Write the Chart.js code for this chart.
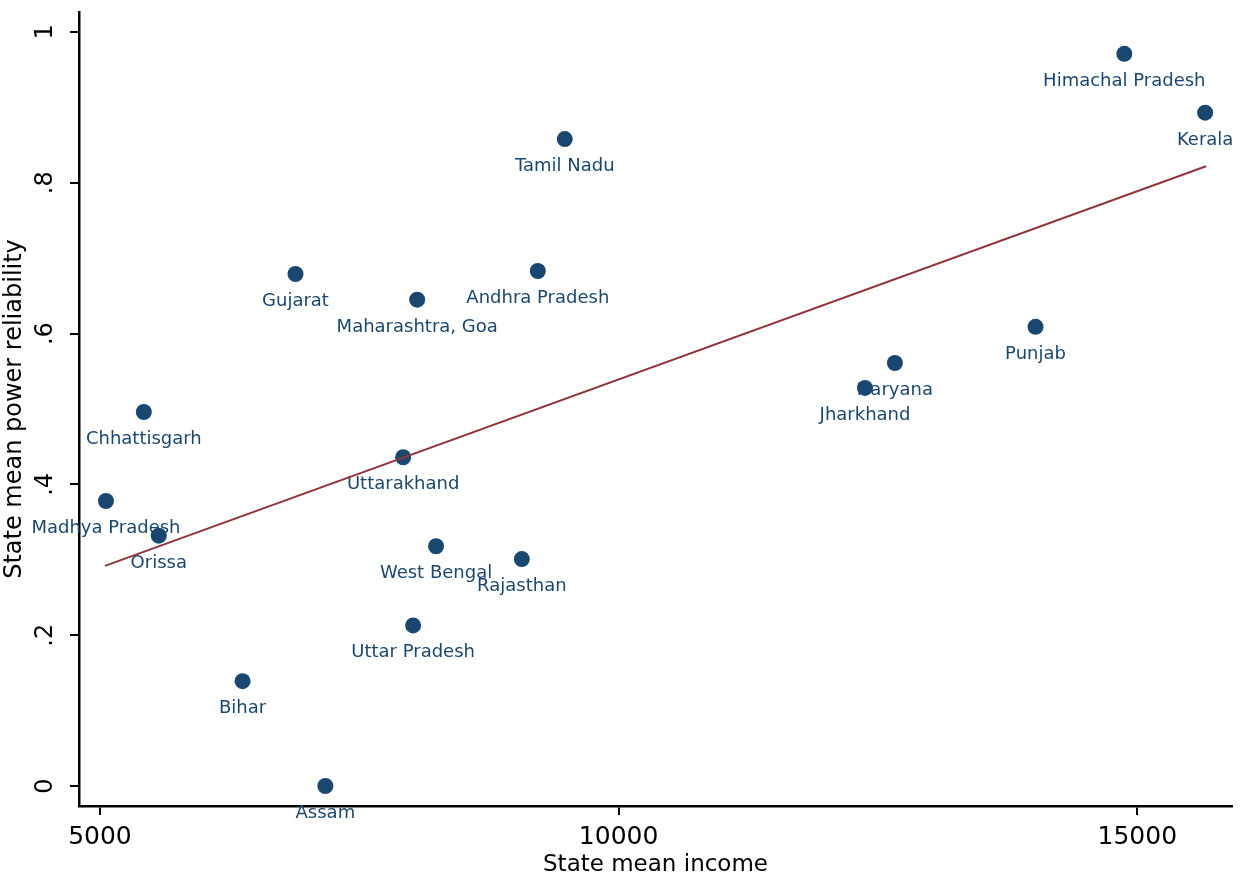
<!DOCTYPE html>
<html>
<head>
<meta charset="utf-8">
<script src="https://cdn.jsdelivr.net/npm/chart.js@4"></script>
<style>
  body { margin: 0; background: #fff; }
  .chart-box { width: 1240px; height: 878px; position: relative; }
</style>
</head>
<body>
<div class="chart-box"><canvas id="chart"></canvas></div>
<script>
// states and their values
const states = ['Himachal Pradesh', 'Kerala', 'Tamil Nadu', 'Andhra Pradesh', 'Gujarat',
  'Maharashtra, Goa', 'Punjab', 'Haryana', 'Jharkhand', 'Chhattisgarh', 'Uttarakhand',
  'Madhya Pradesh', 'Orissa', 'West Bengal', 'Rajasthan', 'Uttar Pradesh', 'Bihar', 'Assam'];
const income = [14875, 15654, 9481, 9221, 6885, 8058, 14019, 12663, 12375, 5423, 7923,
  5058, 5567, 8240, 9067, 8019, 6375, 7173];
const reliability = [0.971, 0.893, 0.858, 0.683, 0.679, 0.645, 0.609, 0.561, 0.528, 0.496, 0.436,
  0.378, 0.332, 0.318, 0.301, 0.213, 0.139, 0.0];

// fitted line end points
const fitX = [5048, 15663];
const fitY = [0.292, 0.822];

const xTicks = [5000, 10000, 15000];
const yTicks = [0, 0.2, 0.4, 0.6, 0.8, 1];
const yTickLabels = ['0', '.2', '.4', '.6', '.8', '1'];

const navy = '#1a476f';
const maroon = '#90353b';
const fontFamily = '"DejaVu Sans", sans-serif';

const scatterData = states.map((s, i) => ({ x: income[i], y: reliability[i] }));
const fitData = fitX.map((x, i) => ({ x: x, y: fitY[i] }));

// labels under each point, drawn right after the scatter so the line sits on top
const pointLabels = {
  id: 'pointLabels',
  afterDatasetDraw(chart, args) {
    if (args.index !== 1) return;
    const ctx = chart.ctx;
    ctx.save();
    ctx.font = '18px ' + fontFamily;
    ctx.fillStyle = navy;
    ctx.textAlign = 'center';
    ctx.textBaseline = 'alphabetic';
    args.meta.data.forEach((pt, i) => {
      ctx.fillText(states[i], pt.x, pt.y + 32);
    });
    ctx.restore();
  }
};

new Chart(document.getElementById('chart'), {
  type: 'scatter',
  data: {
    datasets: [
      {
        type: 'line',
        label: 'Fitted values',
        data: fitData,
        borderColor: maroon,
        borderWidth: 2,
        pointRadius: 0,
        fill: false,
      },
      {
        label: 'States',
        data: scatterData,
        backgroundColor: navy,
        borderColor: navy,
        borderWidth: 0,
        pointRadius: 8,
      },
    ],
  },
  options: {
    responsive: true,
    maintainAspectRatio: false,
    animation: false,
    layout: { padding: { top: 12, right: 5, left: 0, bottom: 0 } },
    plugins: { legend: { display: false }, tooltip: { enabled: false } },
    scales: {
      x: {
        type: 'linear',
        min: 4798,
        max: 15913,
        afterBuildTicks: scale => { scale.ticks = xTicks.map(v => ({ value: v })); },
        afterFit: scale => {
          scale.height = 72;
          scale.paddingLeft = 0;
          scale.paddingRight = 0;
        },
        border: { display: true, color: '#000', width: 2.5 },
        grid: { drawOnChartArea: false, color: '#000', lineWidth: 2, tickLength: 9 },
        ticks: {
          color: '#000',
          font: { family: fontFamily, size: 25 },
          padding: 7,
          maxRotation: 0,
          callback: v => String(v),
        },
        title: {
          display: true,
          text: 'State mean income',
          color: '#000',
          font: { family: fontFamily, size: 23 },
          padding: { top: 0, bottom: -1 },
        },
      },
      y: {
        type: 'linear',
        min: -0.0265,
        max: 1.0265,
        afterBuildTicks: scale => { scale.ticks = yTicks.map(v => ({ value: v })); },
        afterFit: scale => {
          scale.width = 79;
          scale.paddingTop = 0;
          scale.paddingBottom = 0;
        },
        border: { display: true, color: '#000', width: 2.5 },
        grid: { drawOnChartArea: false, color: '#000', lineWidth: 2, tickLength: 9 },
        ticks: {
          color: '#000',
          font: { family: fontFamily, size: 24 },
          padding: 13,
          minRotation: 90,
          maxRotation: 90,
          crossAlign: 'center',
          callback: v => yTickLabels[yTicks.indexOf(v)],
        },
        title: {
          display: true,
          text: 'State mean power reliability',
          color: '#000',
          font: { family: fontFamily, size: 24 },
          padding: { top: 0, bottom: 0 },
        },
      },
    },
  },
  plugins: [pointLabels],
});
</script>
</body>
</html>
